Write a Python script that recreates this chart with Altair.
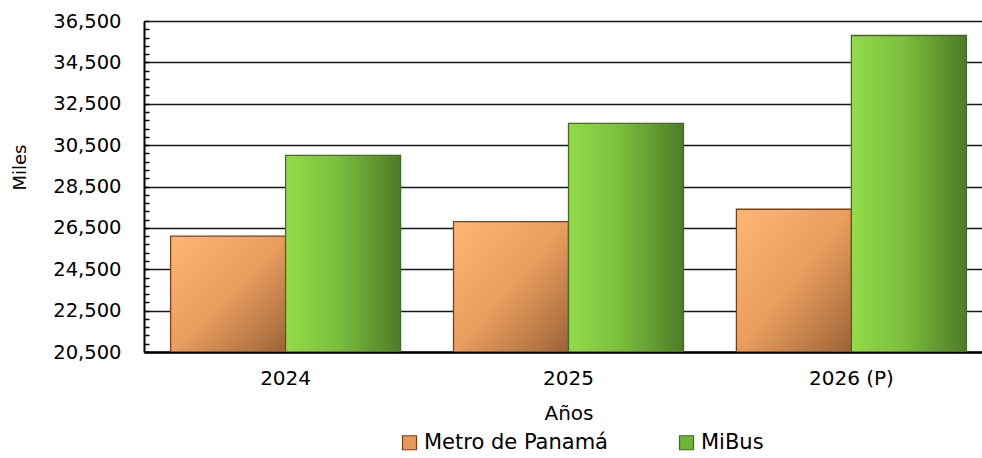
import altair as alt
import pandas as pd

years = ["2024", "2025", "2026 (P)"]
series = ["Metro de Panamá", "MiBus"]
metro = [26100, 26800, 27400]
mibus = [30000, 31550, 35800]
y_min, y_max = 20500, 36500
y_major = [20500, 22500, 24500, 26500, 28500, 30500, 32500, 34500, 36500]
y_minor = list(range(20500, 36501, 400))

rows = []
for i, yr in enumerate(years):
    rows.append({"year": yr, "series": series[0], "value": metro[i]})
    rows.append({"year": yr, "series": series[1], "value": mibus[i]})
df = pd.DataFrame(rows)

W, H = 838, 331
FONT = "DejaVu Sans"

y_scale = alt.Scale(domain=[y_min, y_max], nice=False, zero=False)
x_enc = alt.X(
    "year:N", sort=years,
    scale=alt.Scale(domain=years, range=[0, 849], paddingInner=0.187, paddingOuter=0.094),
    axis=alt.Axis(title="Años", labelAngle=0, ticks=False, tickSize=0, labelPadding=32,
                  labelBaseline="alphabetic", labelFontSize=20, domainColor="black",
                  domainWidth=2.5, titleFontSize=20, titleFontWeight="normal",
                  titleX=424.5, titleY=67, titleBaseline="alphabetic", grid=False),
)
xoff = alt.XOffset("series:N", scale=alt.Scale(domain=series, paddingInner=0, paddingOuter=0))
y_enc = alt.Y(
    "value:Q", scale=y_scale,
    axis=alt.Axis(values=y_major, format=",.0f", grid=True, gridColor="#1a1a1a", gridWidth=1.5,
                  ticks=False, tickSize=0, labelPadding=23, labelFontSize=19.5,
                  domainColor="black", domainWidth=2, title="Miles", titleFontSize=18,
                  titleFontWeight="normal", titleAngle=-90, titleX=-124, titleY=146,
                  titleAlign="center", titleBaseline="middle"),
)
y2_enc = alt.Y2(datum=y_min)

metro_grad = alt.Gradient(
    gradient="linear", x1=0, y1=0, x2=1, y2=1,
    stops=[alt.GradientStop(color="#FDB676", offset=0),
           alt.GradientStop(color="#E99D5E", offset=0.5),
           alt.GradientStop(color="#9C6438", offset=1)],
)
mibus_grad = alt.Gradient(
    gradient="linear", x1=0, y1=0, x2=1, y2=0,
    stops=[alt.GradientStop(color="#93DC49", offset=0),
           alt.GradientStop(color="#7BBE3D", offset=0.45),
           alt.GradientStop(color="#4E7C27", offset=1)],
)

metro_layer = alt.Chart(df).transform_filter(alt.datum.series == series[0]).mark_bar(
    color=metro_grad, stroke="#7E3F16", strokeWidth=1.3, clip=True
).encode(x=x_enc, xOffset=xoff, y=y_enc, y2=y2_enc)

mibus_layer = alt.Chart(df).transform_filter(alt.datum.series == series[1]).mark_bar(
    color=mibus_grad, stroke="#46682A", strokeWidth=1.3, clip=True
).encode(x=x_enc, xOffset=xoff, y=y_enc, y2=y2_enc)

legend_layer = alt.Chart(df).mark_square(size=0, strokeWidth=0, opacity=1, fillOpacity=1).encode(
    fill=alt.Fill("series:N", scale=alt.Scale(domain=series, range=["#E8985A", "#6DB536"]),
                  legend=alt.Legend(title=None, orient="none", direction="horizontal",
                                    legendX=255, legendY=411, symbolType="square",
                                    symbolSize=196, symbolOpacity=1, symbolStrokeWidth=1.2,
                                    labelFont=FONT, labelFontSize=21, labelColor="black",
                                    labelLimit=400, columnPadding=68, padding=0,
                                    labelOffset=4)),
    stroke=alt.Stroke("series:N", scale=alt.Scale(domain=series, range=["#7E3F16", "#3F6B20"])),
)

bars = alt.layer(metro_layer, mibus_layer, legend_layer)

minor = alt.Chart(df).mark_tick(opacity=0).encode(
    y=alt.Y("value:Q", scale=y_scale,
            axis=alt.Axis(orient="right", offset=-W, values=y_minor, labels=False,
                          domain=False, grid=False, ticks=True, tickSize=5,
                          tickColor="black", tickWidth=1.5, title=None))
)

chart = alt.layer(bars, minor).resolve_scale(y="independent").properties(
    width=W, height=H,
    padding={"left": 144, "top": 21, "right": 0, "bottom": 106},
    autosize=alt.AutoSizeParams(type="none"),
).configure_view(stroke=None).configure_axis(
    labelFont=FONT, titleFont=FONT, labelColor="black", titleColor="black"
)

chart.save("out.html", embed_options={"renderer": "svg", "actions": False})
